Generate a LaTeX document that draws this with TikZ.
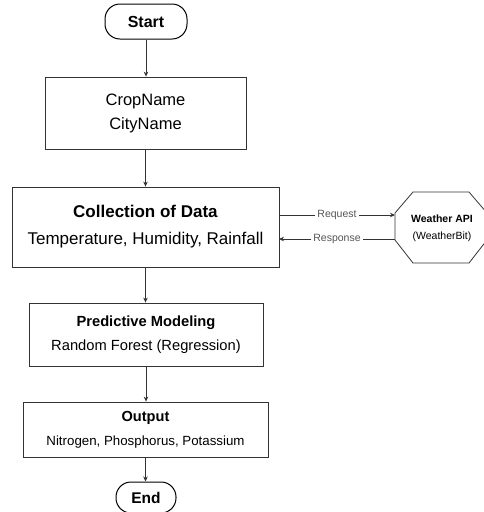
\documentclass[tikz,border=0pt]{standalone}
\usepackage{fontspec}
\setmainfont{Liberation Sans}
\usetikzlibrary{arrows.meta}
\definecolor{linec}{HTML}{333333}
\definecolor{labc}{HTML}{555555}
\tikzset{
  box/.style={draw=linec, line width=0.8pt, rectangle, align=center, inner sep=0pt, text=black},
  term/.style={draw=black, line width=1pt, rectangle, rounded corners=15pt, inner sep=0pt, font=\fontsize{16}{18}\selectfont\bfseries},
  flow/.style={draw=linec, line width=0.9pt, -{Stealth[length=5pt,width=4.5pt]}},
  lab/.style={fill=white, text=labc, inner xsep=2pt, inner ysep=1pt, font=\fontsize{10.5}{12}\selectfont},
}
\begin{document}
\begin{tikzpicture}[x=1pt,y=-1pt]
\useasboundingbox (0,0) rectangle (484,512);
\node[term, minimum width=82pt, minimum height=35pt] (start) at (146,21.5) {Start};
\node[box, minimum width=201pt, minimum height=72pt, font=\fontsize{16.5}{24}\selectfont] (b1) at (145.5,113) {CropName\\CityName};
\node[box, minimum width=267pt, minimum height=80pt, font=\fontsize{17}{27}\selectfont] (b2) at (145.5,227) {\textbf{Collection of Data}\\Temperature, Humidity, Rainfall};
\node[box, minimum width=234pt, minimum height=63pt, font=\fontsize{14.7}{24}\selectfont] (b3) at (146,334.5) {\textbf{Predictive Modeling}\\Random Forest (Regression)};
\node[box, minimum width=245pt, minimum height=55pt, font=\fontsize{14.6}{24}\selectfont] (b4) at (145.5,429.5) {\textbf{Output}\\{\fontsize{13.3}{24}\selectfont Nitrogen, Phosphorus, Potassium}};
\node[term, minimum width=60pt, minimum height=31pt, font=\fontsize{15.5}{18}\selectfont\bfseries] (end) at (146,497.5) {End};
% octagon
\draw[draw=linec, line width=0.8pt] (413,192) -- (469,192) -- (487,213) -- (487,240) -- (469,263) -- (413,263) -- (395,240) -- (395,213) -- cycle;
\node[align=center, inner sep=0pt, minimum width=92pt, minimum height=71pt, font=\fontsize{10.5}{17}\selectfont] (api) at (442,228.5) {\textbf{Weather API}\\(WeatherBit)};
\coordinate (reqA) at (279,215);
\coordinate (reqB) at (395,215);
\coordinate (resA) at (395,239);
\coordinate (resB) at (279,239);
\draw[flow] (start.south) -- (start.south |- b1.north);
\draw[flow] (b1.south) -- (b1.south |- b2.north);
\draw[flow] (b2.south) -- (b2.south |- b3.north);
\draw[flow] (b3.south) -- (b3.south |- b4.north);
\draw[flow] (b4.south) -- (b4.south |- end.north);
\draw[flow] (reqA) -- node[lab] {Request} (reqB);
\draw[flow] (resA) -- node[lab] {Response} (resB);
\end{tikzpicture}
\end{document}
